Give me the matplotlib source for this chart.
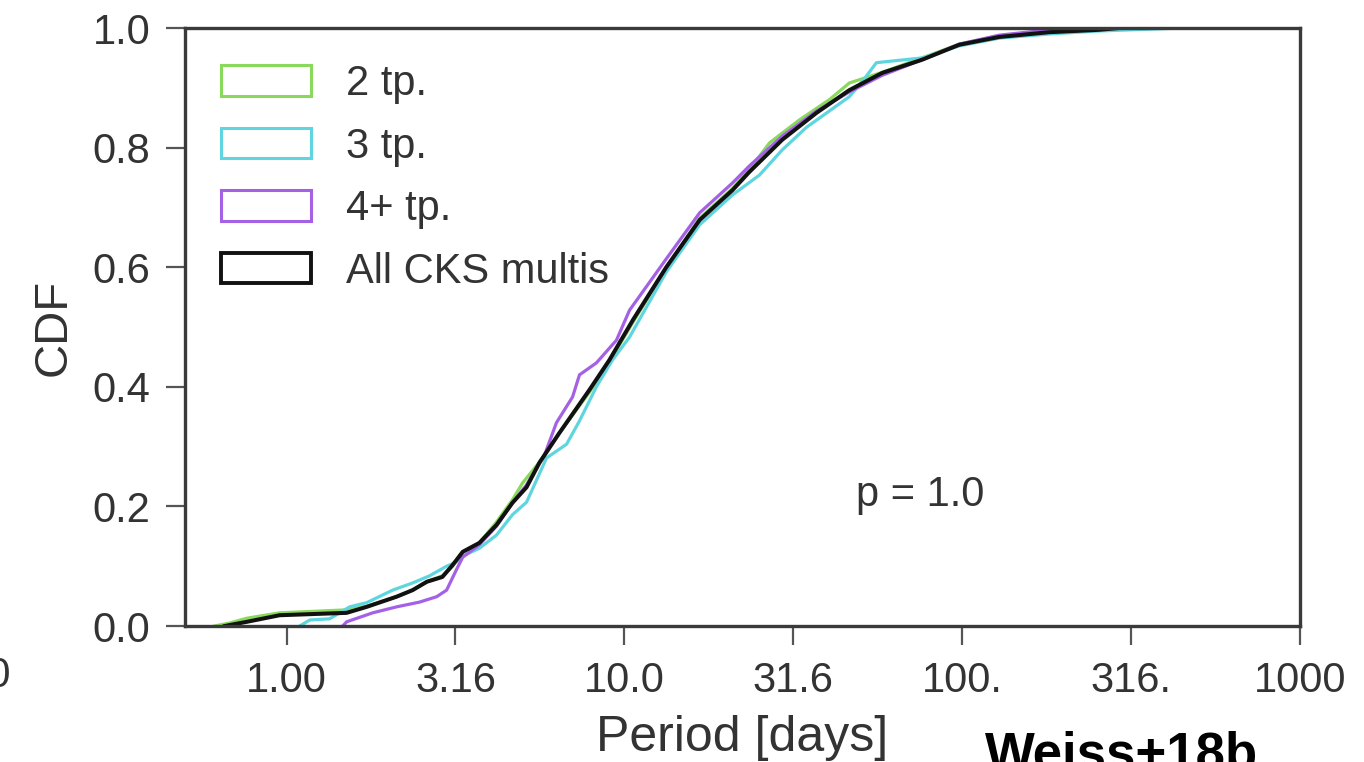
import matplotlib
matplotlib.use("Agg")
import matplotlib.pyplot as plt
from matplotlib.patches import Patch

plt.rcParams['font.family'] = ['Liberation Sans', 'DejaVu Sans']

# cumulative distributions of orbital period
period_all = [0.656, 0.762, 0.953, 1.505, 1.725, 2.115, 2.36, 2.60, 2.89, 3.10, 3.32, 3.72,
              4.18, 4.66, 5.13, 5.60, 6.42, 7.88, 9.03, 10.6, 13.3, 16.7, 20.9, 23.4,
              29.3, 37.0, 46.3, 58.0, 76.1, 98.0, 128.7, 181, 254, 291]
cdf_all = [0.0, 0.007, 0.018, 0.022, 0.032, 0.049, 0.060, 0.074, 0.082, 0.102, 0.124, 0.139,
           0.169, 0.206, 0.232, 0.273, 0.323, 0.395, 0.445, 0.512, 0.600, 0.679, 0.729, 0.759,
           0.813, 0.858, 0.896, 0.925, 0.947, 0.972, 0.985, 0.993, 0.997, 1.0]

period_2tp = [0.612, 0.678, 0.762, 0.953, 1.505, 1.725, 2.115, 2.36, 2.60, 2.89, 3.10, 3.32,
              3.72, 4.18, 4.66, 4.99, 5.60, 6.42, 7.88, 9.03, 10.6, 13.3, 16.7, 20.9, 23.4,
              26.9, 32.9, 40.4, 46.3, 58.0, 76.1, 98.0, 128.7, 181, 230]
cdf_2tp = [0.0, 0.005, 0.013, 0.022, 0.027, 0.033, 0.049, 0.060, 0.074, 0.084, 0.100, 0.124,
           0.139, 0.174, 0.211, 0.239, 0.274, 0.323, 0.391, 0.442, 0.508, 0.599, 0.682, 0.732,
           0.763, 0.808, 0.846, 0.880, 0.908, 0.926, 0.950, 0.973, 0.987, 0.995, 1.0]

period_3tp = [1.093, 1.17, 1.34, 1.536, 1.725, 2.06, 2.36, 2.65, 2.975, 3.18, 3.32, 3.72,
              4.18, 4.66, 5.13, 5.88, 6.74, 7.36, 8.26, 9.22, 10.35, 13.3, 16.7, 20.9, 25.1,
              29.3, 34.6, 46.3, 51.3, 55.7, 76.1, 98.0, 128.7, 181, 254, 448]
cdf_3tp = [0.0, 0.010, 0.012, 0.032, 0.039, 0.060, 0.072, 0.084, 0.100, 0.107, 0.117, 0.130,
           0.152, 0.186, 0.207, 0.281, 0.304, 0.343, 0.400, 0.445, 0.483, 0.592, 0.671, 0.721,
           0.754, 0.796, 0.834, 0.885, 0.915, 0.942, 0.950, 0.970, 0.983, 0.990, 0.995, 1.0]

period_4tp = [1.465, 1.505, 1.797, 2.115, 2.475, 2.78, 2.975, 3.18, 3.32, 3.72, 4.18, 4.66,
              5.13, 5.80, 6.29, 7.02, 7.36, 8.26, 9.47, 10.35, 13.3, 16.7, 20.9, 23.4, 29.3,
              37.0, 46.3, 58.0, 76.1, 98.0, 128.7, 181, 272]
cdf_4tp = [0.0, 0.007, 0.022, 0.032, 0.040, 0.049, 0.060, 0.094, 0.115, 0.136, 0.167, 0.206,
           0.236, 0.286, 0.340, 0.383, 0.420, 0.440, 0.478, 0.528, 0.614, 0.691, 0.741, 0.769,
           0.819, 0.861, 0.893, 0.921, 0.947, 0.973, 0.988, 0.997, 1.0]

labels = ['2 tp.', '3 tp.', '4+ tp.', 'All CKS multis']
colors = ['#8ad85c', '#5fd6df', '#a461e6', '#111111']

tick_vals = [1.0, 3.16, 10.0, 31.6, 100.0, 316.0, 1000.0]
tick_labels = ['1.00', '3.16', '10.0', '31.6', '100.', '316.', '1000']

text_color = '#333333'
spine_color = '#3a3a3a'

fig = plt.figure(figsize=(13.64, 7.62), dpi=100)
ax = fig.add_axes([185 / 1364, 1 - 626 / 762, (1300 - 185) / 1364, (626 - 28) / 762])

series = [(period_2tp, cdf_2tp), (period_3tp, cdf_3tp), (period_4tp, cdf_4tp), (period_all, cdf_all)]
for (p, c), col, lab in zip(series, colors, labels):
    lw = 2.9 if lab.startswith('All') else 2.3
    ax.plot(p, c, color=col, lw=lw)

ax.set_xscale('log')
ax.set_xlim(0.5, 1000)
ax.set_ylim(0, 1)
ax.set_xticks(tick_vals)
ax.set_xticklabels(tick_labels)
ax.minorticks_off()
ax.set_yticks([0.0, 0.2, 0.4, 0.6, 0.8, 1.0])
ax.set_yticklabels(['0.0', '0.2', '0.4', '0.6', '0.8', '1.0'])
ax.tick_params(axis='both', direction='out', length=14, width=1.6, color='#555555',
               labelsize=30, labelcolor=text_color, pad=11)

for s in ax.spines.values():
    s.set_color(spine_color)
    s.set_linewidth(2.4)

ax.set_xlabel('Period [days]', fontsize=36, color=text_color, labelpad=10)
ax.set_ylabel('CDF', fontsize=34, color=text_color, labelpad=12)

ax.text(48.5, 0.2, 'p = 1.0', fontsize=30, color=text_color, va='baseline')

handles = [Patch(facecolor='none', edgecolor=col, lw=(2.8 if i == 3 else 2.2))
           for i, col in enumerate(colors)]
leg = ax.legend(handles, labels, loc='upper left', frameon=False, fontsize=30,
                handlelength=2.15, handleheight=0.75, handletextpad=0.85,
                labelspacing=0.54, borderaxespad=0.62, borderpad=0.25)
for t in leg.get_texts():
    t.set_color(text_color)

# partial label cut off at the left edge of the slide and the citation
fig.text(11 / 1364, 1 - 676 / 762, '1000', fontsize=30, color=text_color, ha='right', va='center')
fig.text(985 / 1364, 1 - 770 / 762, 'Weiss+18b', fontsize=38, fontweight='bold',
         color='black', ha='left', va='baseline')

fig.savefig('out.png', dpi=100)
